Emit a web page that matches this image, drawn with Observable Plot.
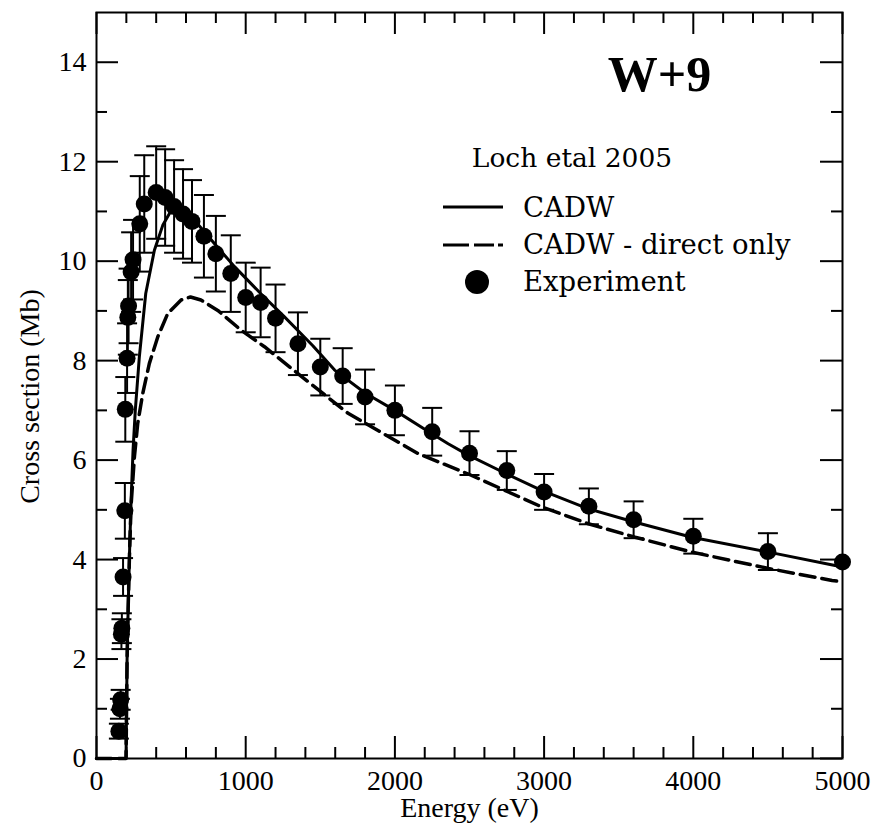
<!DOCTYPE html>
<html>
<head>
<meta charset="utf-8">
<script src="https://cdn.jsdelivr.net/npm/d3@7"></script>
<script src="https://cdn.jsdelivr.net/npm/@observablehq/plot@0.6"></script>
<style>
  html, body { margin: 0; padding: 0; background: white; }
  #chart { width: 889px; height: 825px; }
</style>
</head>
<body>
<div id="chart"></div>
<script>
// ---- Experiment (Loch et al 2005) ----
const expEnergy = [150,157,162,167,170,178,190,193,205,210,215,232,245,290,320,400,460,520,580,640,720,800,900,1000,1100,1200,1350,1500,1650,1800,2000,2250,2500,2750,3000,3300,3600,4000,4500,5000];
const expSigma  = [0.55,1.0,1.18,2.5,2.62,3.65,4.98,7.02,8.05,8.87,9.1,9.78,10.03,10.75,11.15,11.38,11.28,11.1,10.95,10.8,10.5,10.15,9.75,9.27,9.17,8.85,8.34,7.87,7.69,7.27,7.0,6.57,6.14,5.79,5.36,5.07,4.80,4.47,4.16,3.95];
const expErr    = [0.15,0.2,0.2,0.3,0.3,0.38,0.56,0.65,0.7,0.75,0.75,0.8,0.8,0.96,0.98,0.93,0.97,0.93,0.9,0.83,0.83,0.76,0.77,0.7,0.7,0.68,0.63,0.57,0.56,0.55,0.5,0.48,0.44,0.39,0.36,0.36,0.37,0.35,0.37,0];

// ---- CADW (solid) ----
const cadwEnergy = [0,198,205,212,222,232,245,260,287,330,388,444,489,550,620,720,820,925,1100,1260,1450,1596,1800,2000,2200,2357,2492,2750,2983,3297,3610,3990,4505,4950,5000];
const cadwSigma  = [0,0,2.0,3.0,4.2,5.2,6.2,7.0,8.07,9.35,10.22,10.72,10.96,11.02,10.95,10.6,10.25,9.89,9.35,8.88,8.3,7.81,7.35,7.0,6.62,6.33,6.10,5.72,5.39,5.02,4.75,4.45,4.15,3.88,3.86];

// ---- CADW - direct only (dashed) ----
const directEnergy = [0,198,205,212,222,232,254,276,310,354,411,478,567,630,700,813,970,1126,1350,1686,2000,2156,2492,2983,3297,3610,3990,4505,4930,5000];
const directSigma  = [0,0,2.0,3.0,4.2,5.1,6.06,6.73,7.34,7.94,8.48,8.95,9.22,9.28,9.22,9.01,8.61,8.28,7.74,6.94,6.40,6.13,5.72,5.06,4.72,4.45,4.15,3.82,3.58,3.55];

// ---- ticks & text ----
const xMajor = [0,1000,2000,3000,4000,5000];
const xMinor = [200,400,600,800,1200,1400,1600,1800,2200,2400,2600,2800,3200,3400,3600,3800,4200,4400,4600,4800];
const yMajor = [0,2,4,6,8,10,12,14];
const yMinor = [1,3,5,7,9,11,13];
const xLabel = "Energy (eV)";
const yLabel = "Cross section (Mb)";
const titleText = "W+9";
const legendTitle = "Loch etal 2005";
const legendLabels = ["CADW", "CADW - direct only", "Experiment"];

const exp = expEnergy.map((E, i) => ({E, s: expSigma[i], err: expErr[i]}));
const cadw = cadwEnergy.map((E, i) => ({E, s: cadwSigma[i]}));
const direct = directEnergy.map((E, i) => ({E, s: directSigma[i]}));
const caps = exp.filter(d => d.err > 0).flatMap(d => [{E: d.E, s: d.s + d.err}, {E: d.E, s: d.s - d.err}]);

const capSymbol = {
  draw(ctx, size) {
    const w = Math.sqrt(size / Math.PI);
    ctx.moveTo(-w, 0);
    ctx.lineTo(w, 0);
  }
};

const W = 889, H = 825, mL = 96, mR = 47, mT = 12, mB = 67;
const innerH = H - mT - mB;
const serif = "'Liberation Serif', 'Times New Roman', serif";

const plot = Plot.plot({
  width: W, height: H,
  marginLeft: mL, marginRight: mR, marginTop: mT, marginBottom: mB,
  style: {fontFamily: serif, fontSize: "28px", background: "white", color: "black", overflow: "visible"},
  x: {domain: [0, 5000], label: null},
  y: {domain: [0, 15], label: null},
  marks: [
    // tick labels
    Plot.axisX(xMajor, {tickSize: 0, tickPadding: 12, tickFormat: "d", fontSize: 28, label: null}),
    Plot.axisY(yMajor, {tickSize: 0, tickPadding: 10, tickFormat: "d", fontSize: 28, label: null}),
    // inward ticks (bottom, top, left, right)
    Plot.tickX(xMajor, {insetTop: innerH - 22, stroke: "black", strokeWidth: 2}),
    Plot.tickX(xMinor, {insetTop: innerH - 11, stroke: "black", strokeWidth: 2}),
    Plot.tickX(xMajor, {insetBottom: innerH - 22, stroke: "black", strokeWidth: 2}),
    Plot.tickX(xMinor, {insetBottom: innerH - 11, stroke: "black", strokeWidth: 2}),
    Plot.tickY(yMajor, {insetRight: (W - mL - mR) - 22, stroke: "black", strokeWidth: 2}),
    Plot.tickY(yMinor, {insetRight: (W - mL - mR) - 11, stroke: "black", strokeWidth: 2}),
    Plot.tickY(yMajor, {insetLeft: (W - mL - mR) - 22, stroke: "black", strokeWidth: 2}),
    Plot.tickY(yMinor, {insetLeft: (W - mL - mR) - 11, stroke: "black", strokeWidth: 2}),
    // curves
    Plot.line(direct, {x: "E", y: "s", stroke: "black", strokeWidth: 3.5, strokeDasharray: "15,7"}),
    Plot.line(cadw, {x: "E", y: "s", stroke: "black", strokeWidth: 3}),
    // error bars
    Plot.ruleX(exp.filter(d => d.err > 0), {x: "E", y1: d => d.s - d.err, y2: d => d.s + d.err, stroke: "black", strokeWidth: 2}),
    Plot.dot(caps, {x: "E", y: "s", symbol: capSymbol, r: 10, stroke: "black", strokeWidth: 2, fill: "none"}),
    // experiment points
    Plot.dot(exp, {x: "E", y: "s", r: 8.5, fill: "black", stroke: "none"}),
    // frame
    Plot.frame({stroke: "black", strokeWidth: 2}),
    // axis labels
    Plot.text([xLabel], {frameAnchor: "bottom", dy: 50, fontSize: 28, textAnchor: "middle", lineAnchor: "middle"}),
    Plot.text([yLabel], {frameAnchor: "left", dx: -66, dy: 11, rotate: -90, fontSize: 28, textAnchor: "middle", lineAnchor: "middle"}),
    // title
    Plot.text([titleText], {frameAnchor: "top-left", dx: 659 - mL, dy: 90 - mT, fontSize: 50, fontWeight: "bold", textAnchor: "middle", lineAnchor: "bottom"})
  ]
});

document.getElementById("chart").appendChild(plot);

// legend (drawn in pixel space as an annotation)
const svg = d3.select(plot);
const g = svg.append("g")
  .attr("font-family", "'DejaVu Serif', serif")
  .attr("font-size", 27.5)
  .attr("fill", "black")
  .attr("text-anchor", "start");
g.append("text").attr("x", 572).attr("y", 167).attr("font-size", 26.5).attr("text-anchor", "middle").text(legendTitle);
g.append("line").attr("x1", 443).attr("x2", 503).attr("y1", 207).attr("y2", 207).attr("stroke", "black").attr("stroke-width", 3);
g.append("line").attr("x1", 443).attr("x2", 503).attr("y1", 245).attr("y2", 245).attr("stroke", "black").attr("stroke-width", 3).attr("stroke-dasharray", "26,5,20,4,5");
g.append("circle").attr("cx", 477).attr("cy", 282).attr("r", 12).attr("fill", "black");
const ys = [217, 254, 291];
legendLabels.forEach((t, i) => g.append("text").attr("x", 523).attr("y", ys[i]).attr("text-anchor", "start").text(t));
</script>
</body>
</html>
